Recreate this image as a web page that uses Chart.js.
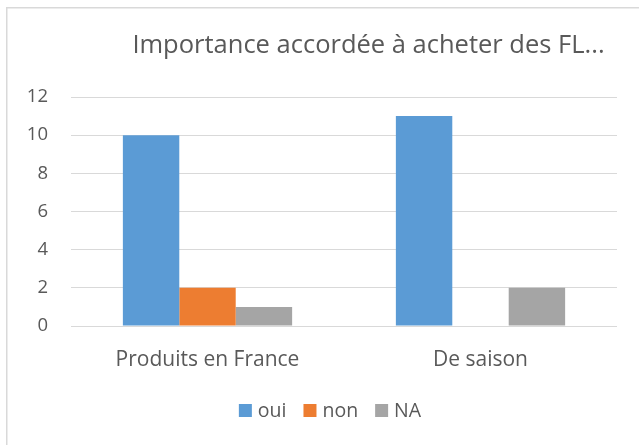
<!DOCTYPE html>
<html>
<head>
<meta charset="utf-8">
<script src="https://cdn.jsdelivr.net/npm/chart.js@4"></script>
<style>
  html, body { margin: 0; padding: 0; background: #ffffff; }
  #wrap { position: relative; width: 639px; height: 445px; overflow: hidden; }
</style>
</head>
<body>
<div id="wrap"><canvas id="c" width="639" height="445"></canvas></div>
<script>
// ---- data ----
const titleText = "Importance accordée à acheter des FL...";
const categories = ["Produits en France", "De saison"];
const seriesNames = ["oui", "non", "NA"];
const ouiValues = [10, 11];
const nonValues = [2, 0];
const naValues = [1, 2];
const yTicks = [0, 2, 4, 6, 8, 10, 12];

// ---- styles ----
const colors = ["#5B9BD5", "#ED7D31", "#A5A5A5"];
const textColor = "#595959";
const gridColor = "#D9D9D9";
const fontFamily = "'Open Sans', 'Noto Sans', sans-serif";

const decor = {
  id: 'decor',
  beforeDraw(chart) {
    const ctx = chart.ctx;
    ctx.save();
    ctx.fillStyle = '#ffffff';
    ctx.fillRect(0, 0, chart.width, chart.height);
    ctx.fillStyle = gridColor;
    ctx.fillRect(6, 7, chart.width - 6, 1.5);
    ctx.fillRect(6, 7, 1.5, chart.height - 7);
    ctx.restore();
  },
  afterDraw(chart) {
    const ctx = chart.ctx;
    ctx.save();
    // title
    ctx.fillStyle = textColor;
    ctx.font = "25.5px " + fontFamily;
    ctx.textAlign = 'center';
    ctx.textBaseline = 'alphabetic';
    ctx.fillText(titleText, 368.5, 53);
    // legend
    ctx.font = "19.5px " + fontFamily;
    ctx.textAlign = 'left';
    const box = 13, gapText = 6, gapItem = 17;
    const items = chart.data.datasets.map(d => ({ label: d.label, color: d.backgroundColor }));
    let total = 0;
    items.forEach((it, i) => {
      it.w = ctx.measureText(it.label).width;
      total += box + gapText + it.w + (i < items.length - 1 ? gapItem : 0);
    });
    let x = 330 - total / 2;
    const boxTop = 404, baseline = 417;
    items.forEach(it => {
      ctx.fillStyle = it.color;
      ctx.fillRect(x, boxTop, box, box);
      x += box + gapText;
      ctx.fillStyle = textColor;
      ctx.fillText(it.label, x, baseline);
      x += it.w + gapItem;
    });
    ctx.restore();
  }
};

const datasets = [ouiValues, nonValues, naValues].map((vals, i) => ({
  label: seriesNames[i],
  data: vals,
  backgroundColor: colors[i],
  borderWidth: 0,
  categoryPercentage: 0.62,
  barPercentage: 1.0
}));

new Chart(document.getElementById('c'), {
  type: 'bar',
  data: { labels: categories, datasets },
  options: {
    responsive: false,
    animation: false,
    devicePixelRatio: 1,
    layout: { padding: { top: 97, right: 22, bottom: 0, left: 0 } },
    plugins: {
      legend: { display: false },
      title: { display: false },
      tooltip: { enabled: false }
    },
    scales: {
      x: {
        grid: { display: false },
        border: { display: false },
        ticks: { color: textColor, font: { family: fontFamily, size: 21 }, padding: 13 },
        afterFit(s) { s.height = 119; }
      },
      y: {
        min: yTicks[0],
        max: yTicks[yTicks.length - 1],
        afterBuildTicks(s) { s.ticks = yTicks.map(v => ({ value: v })); },
        grid: { color: gridColor, lineWidth: 1, drawTicks: false },
        border: { display: false },
        ticks: { color: textColor, font: { family: fontFamily, size: 18.5 }, padding: 23 },
        afterFit(s) { s.width = 71; }
      }
    }
  },
  plugins: [decor]
});
</script>
</body>
</html>
